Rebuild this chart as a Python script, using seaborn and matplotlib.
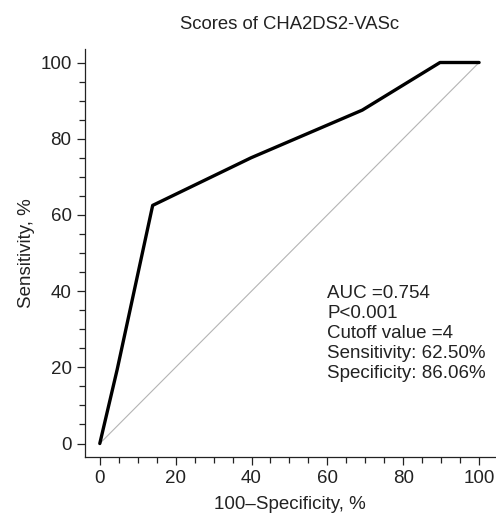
"""
ROC curve for CHA2DS2-VASc scores
"""
import matplotlib
matplotlib.use("Agg")
import matplotlib.pyplot as plt
import seaborn as sns
import pandas as pd
from matplotlib.ticker import MultipleLocator

# ROC points
fpr = [0, 4.6, 13.94, 39.9, 69.2, 89.7, 100]
tpr = [0, 19.5, 62.5, 75, 87.5, 100, 100]
ref_line = [0, 100]
stats_lines = ["AUC =0.754", "P<0.001", "Cutoff value =4",
               "Sensitivity: 62.50%", "Specificity: 86.06%"]

sns.set_style("ticks")
plt.rcParams["font.family"] = ["Liberation Sans", "DejaVu Sans"]

df = pd.DataFrame({"fpr": fpr, "tpr": tpr})

fig = plt.figure(figsize=(4.96, 5.19), dpi=100)
ax = fig.add_axes([0.171, 0.119, 0.827, 0.787])

# chance diagonal
sns.lineplot(x=ref_line, y=ref_line, ax=ax, color="#b4b4b4", linewidth=0.8)
# ROC curve
sns.lineplot(data=df, x="fpr", y="tpr", ax=ax, color="black", linewidth=2.4,
             sort=False, estimator=None)

ax.set_xlim(-3.95, 104.2)
ax.set_ylim(-3.6, 103.6)
ax.xaxis.set_major_locator(MultipleLocator(20))
ax.yaxis.set_major_locator(MultipleLocator(20))
ax.xaxis.set_minor_locator(MultipleLocator(5))
ax.yaxis.set_minor_locator(MultipleLocator(5))
ax.tick_params(which="major", length=6, width=0.9, labelsize=13.5, colors="#222222")
ax.tick_params(which="minor", length=4, width=0.9, colors="#222222")
sns.despine(ax=ax)
for s in ["left", "bottom"]:
    ax.spines[s].set_linewidth(0.9)
    ax.spines[s].set_color("#222222")

ax.set_xlabel("100\u2013Specificity, %", fontsize=13.5, color="#222222", labelpad=6)
ax.set_ylabel("Sensitivity, %", fontsize=13.5, color="#222222", labelpad=4)
ax.set_title("Scores of CHA2DS2-VASc", fontsize=13.3, color="#222222", pad=14)

ax.text(60, 41.5, "\n".join(stats_lines), fontsize=13.5, color="#222222",
        va="top", ha="left", linespacing=1.23)

fig.savefig("out.png", dpi=100)
